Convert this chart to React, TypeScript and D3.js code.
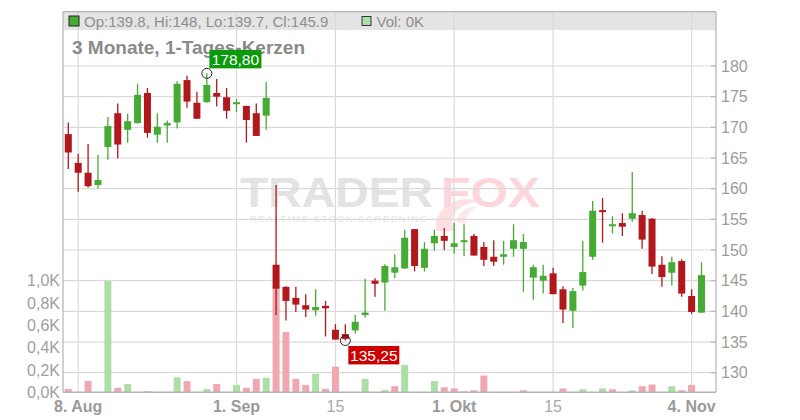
import React from "react";
import * as d3 from "d3";

const opens = [168.9,164.2,162.6,160.6,166.8,172.3,169.6,170.7,175.6,168.8,170.3,170.8,177.7,174.0,174.1,175.6,174.9,173.8,173.5,172.3,171.9,147.6,144.0,142.2,141.0,140.2,140.9,137.0,136.3,136.9,139.4,145.0,144.7,146.3,147.0,153.4,147.1,151.1,152.3,150.5,151.5,152.3,150.5,148.9,148.9,150.2,150.2,145.5,145.0,146.2,143.6,140.1,144.2,148.9,156.5,154.0,154.4,155.1,155.7,155.1,147.6,146.3,148.2,142.5,139.8];
const highs = [170.8,165.7,167.3,165.5,171.7,173.9,172.2,177.1,176.4,172.3,171.1,177.5,178.4,175.8,178.8,177.9,176.4,174.6,173.5,173.9,177.4,160.6,144.1,144.0,142.8,143.6,141.7,137.9,137.9,139.4,145.3,145.4,147.7,149.3,153.3,153.4,151.3,153.3,153.6,154.4,154.2,152.6,151.3,151.6,151.5,154.2,152.6,147.6,147.6,147.1,144.1,143.8,151.5,158.0,158.5,155.5,156.0,162.7,156.4,155.2,149.0,148.9,148.5,143.6,148.0];
const lows = [163.2,159.5,160.2,160.0,164.7,164.9,167.5,170.6,168.3,167.5,167.5,169.8,173.2,171.4,174.0,173.4,171.4,172.5,167.5,168.6,169.6,139.4,138.5,139.9,139.1,139.3,135.9,135.4,135.25,136.4,139.0,142.4,140.1,145.4,146.9,146.5,146.5,149.9,150.0,149.4,149.0,149.1,147.4,147.4,147.6,148.9,143.2,141.9,142.9,142.8,138.1,137.3,143.4,148.4,151.2,152.7,152.3,154.6,150.2,146.1,144.0,144.2,142.4,139.6,139.7];
const closes = [165.9,162.6,160.4,161.4,170.2,167.2,171.0,175.3,169.1,170.1,170.7,177.1,174.2,171.4,176.9,175.0,172.7,174.1,171.2,168.6,174.8,143.7,141.7,141.1,140.3,140.7,140.5,135.4,135.5,138.3,139.8,144.5,147.4,147.2,152.0,147.4,150.2,152.3,151.5,151.1,151.6,149.1,148.4,148.1,149.3,151.6,151.3,147.2,145.8,142.8,140.3,143.3,146.4,156.4,156.4,154.2,153.8,156.0,151.7,147.3,145.6,148.0,142.9,139.9,145.9];
const volumes = [30,0,100,0,1000,40,75,0,10,0,0,135,100,0,30,75,0,65,40,120,130,940,540,120,65,165,30,230,0,0,120,0,20,55,245,0,0,100,45,35,10,18,150,0,0,0,18,0,0,0,35,0,27,0,35,27,0,18,55,70,0,55,18,65,0];
const volUp = [0,0,0,0,1,0,1,0,0,0,0,1,0,0,1,0,0,1,0,0,1,0,0,0,0,1,0,0,0,0,1,0,1,0,1,0,0,1,0,0,1,0,0,0,0,0,0,0,0,0,0,0,1,0,1,0,0,1,0,0,0,1,0,0,0];

const priceTicks = [130,135,140,145,150,155,160,165,170,175,180];
const volTicks = [0,200,400,600,800,1000];
const volTickLabels = ["0,0K","0,2K","0,4K","0,6K","0,8K","1,0K"];
const xTickIdx = [1,17,27,39,49,63];
const xTickLabels = ["8. Aug","1. Sep","15","1. Okt","15","4. Nov"];
const xTickBold = [true,true,false,true,false,true];
const title = "3 Monate, 1-Tages-Kerzen";

const FONT = "'Liberation Sans', Arial, sans-serif";
const GREEN = "#46ab33";
const RED = "#b2171b";
const VGREEN = "#acdfa6";
const VRED = "#f0a7af";
const GRID = "#dadada";
const AXIS = "#b4b4b4";

export default function App() {
  const L = 63, R = 716, T = 11.7, B = 392.3;
  const n = closes.length;
  const x = d3.scaleLinear().domain([0, n - 1]).range([68.3, 701.5]);
  const y = d3.scaleLinear().domain([130, 180]).range([372.7, 66]);
  const yv = d3.scaleLinear().domain([0, 1000]).range([B, 280.7]);
  const bw = 7;

  const maxH = d3.max(highs) as number;
  const maxI = highs.indexOf(maxH);
  const minL = d3.min(lows) as number;
  const minI = lows.indexOf(minL);
  const fmt = (v: number) => v.toFixed(2).replace(".", ",");
  const last = n - 1;
  const header = `Op:${opens[last]}, Hi:${highs[last]}, Lo:${lows[last]}, Cl:${closes[last]}`;
  const lastVol = `Vol: ${Math.round(volumes[last] / 1000)}K`;

  return (
    <svg width={800} height={420} style={{ position: "absolute", left: 0, top: 0, background: "#fff" }} fontFamily={FONT}>
      {/* header band */}
      <rect x={L} y={T} width={R - L} height={30 - T} fill="#e4e4e4" />
      {/* watermark */}
      <g>
        <text x={240} y={207} fontSize={42} fontWeight={900} fill="#e3e3e3" textLength={193} lengthAdjust="spacingAndGlyphs">TRADER</text>
        <path d="M436 231 C434 214 446 201 466 199 C470 199 474 200 476 202 C462 204 452 212 452 222 C452 226 454 229 456 231 Z" fill="#fde0e3" />
        <path d="M456 222 C458 212 466 207 478 206 C470 210 466 216 466 224 Z" fill="#fde8ea" />
        <text x={441} y={207} fontSize={42} fontWeight={900} fill="#fcd6db" textLength={99} lengthAdjust="spacingAndGlyphs">FOX</text>
        <text x={250} y={222} fontSize={9.5} fill="#e6e6e6" textLength={177} lengthAdjust="spacing">REALTIME STOCK SCREENING</text>
      </g>
      {/* grid */}
      {priceTicks.map((p) => (
        <line key={"hg" + p} x1={L} x2={R} y1={y(p)} y2={y(p)} stroke={GRID} strokeWidth={1.2} />
      ))}
      {xTickIdx.map((i) => (
        <line key={"vg" + i} x1={x(i)} x2={x(i)} y1={T} y2={B} stroke={GRID} strokeWidth={1.2} />
      ))}
      {/* volumes */}
      {volumes.map((v, i) =>
        v > 0 ? (
          <rect key={"v" + i} x={x(i) - bw / 2} y={yv(v)} width={bw} height={B - yv(v)} fill={volUp[i] ? VGREEN : VRED} />
        ) : null
      )}
      {/* candles */}
      {closes.map((c, i) => {
        const o = opens[i];
        const up = c >= o;
        const col = up ? GREEN : RED;
        const top = y(Math.max(o, c));
        const h = Math.max(Math.abs(y(o) - y(c)), 2);
        return (
          <g key={"c" + i}>
            <line x1={x(i)} x2={x(i)} y1={y(highs[i])} y2={y(lows[i])} stroke={col} strokeWidth={1.3} />
            <rect x={x(i) - bw / 2} y={top} width={bw} height={h} fill={col} />
          </g>
        );
      })}
      {/* axes */}
      <line x1={L} x2={L} y1={T} y2={B} stroke={AXIS} strokeWidth={1.2} />
      <line x1={R} x2={R} y1={T} y2={B} stroke={AXIS} strokeWidth={1.2} />
      <line x1={L} x2={R} y1={T} y2={T} stroke={AXIS} strokeWidth={1.2} />
      <line x1={L} x2={R} y1={B} y2={B} stroke={AXIS} strokeWidth={1.5} />
      {priceTicks.map((p) => (
        <g key={"pt" + p}>
          <line x1={R - 5} x2={R} y1={y(p)} y2={y(p)} stroke={AXIS} strokeWidth={1.2} />
          <text x={721} y={y(p)} dy="0.35em" fontSize={16} fill="#9c9c9c">{p}</text>
        </g>
      ))}
      {volTicks.map((v, k) => (
        <text key={"vt" + v} x={60} y={yv(v)} dy="0.35em" fontSize={16} fill="#a0a0a0" textAnchor="end">{volTickLabels[k]}</text>
      ))}
      {xTickIdx.map((i, k) => (
        <text key={"xt" + i} x={x(i)} y={412} fontSize={16} fontWeight={xTickBold[k] ? "bold" : "normal"} fill={xTickBold[k] ? "#9a9a9a" : "#a8a8a8"} textAnchor="middle">{xTickLabels[k]}</text>
      ))}
      {/* header */}
      <rect x={69} y={16} width={10} height={10} fill={GREEN} stroke="#222" strokeWidth={1} />
      <text x={84} y={26.5} fontSize={15} fill="#8e8e8e">{header}</text>
      <rect x={362} y={16.5} width={9} height={9} fill={VGREEN} stroke="#333" strokeWidth={1} />
      <text x={376.5} y={26.5} fontSize={15} fill="#8e8e8e">{lastVol}</text>
      <text x={72} y={54} fontSize={19} fontWeight="bold" fill="#8a8a8a">{title}</text>
      {/* max marker */}
      <circle cx={x(maxI)} cy={y(maxH)} r={5} fill="none" stroke="#222" strokeWidth={1} />
      <rect x={x(maxI) + 2.6} y={y(maxH) - 23.4} width={52} height={18.4} fill="#0a9a0a" />
      <text x={x(maxI) + 28.6} y={y(maxH) - 8.8} fontSize={15.5} fill="#fff" textAnchor="middle">{fmt(maxH)}</text>
      {/* min marker */}
      <circle cx={x(minI)} cy={y(minL)} r={5} fill="none" stroke="#222" strokeWidth={1} />
      <rect x={x(minI) + 3} y={y(minL) + 5.5} width={51} height={18.4} fill="#cc0000" />
      <text x={x(minI) + 28.5} y={y(minL) + 20.2} fontSize={15.5} fill="#fff" textAnchor="middle">{fmt(minL)}</text>
    </svg>
  );
}
